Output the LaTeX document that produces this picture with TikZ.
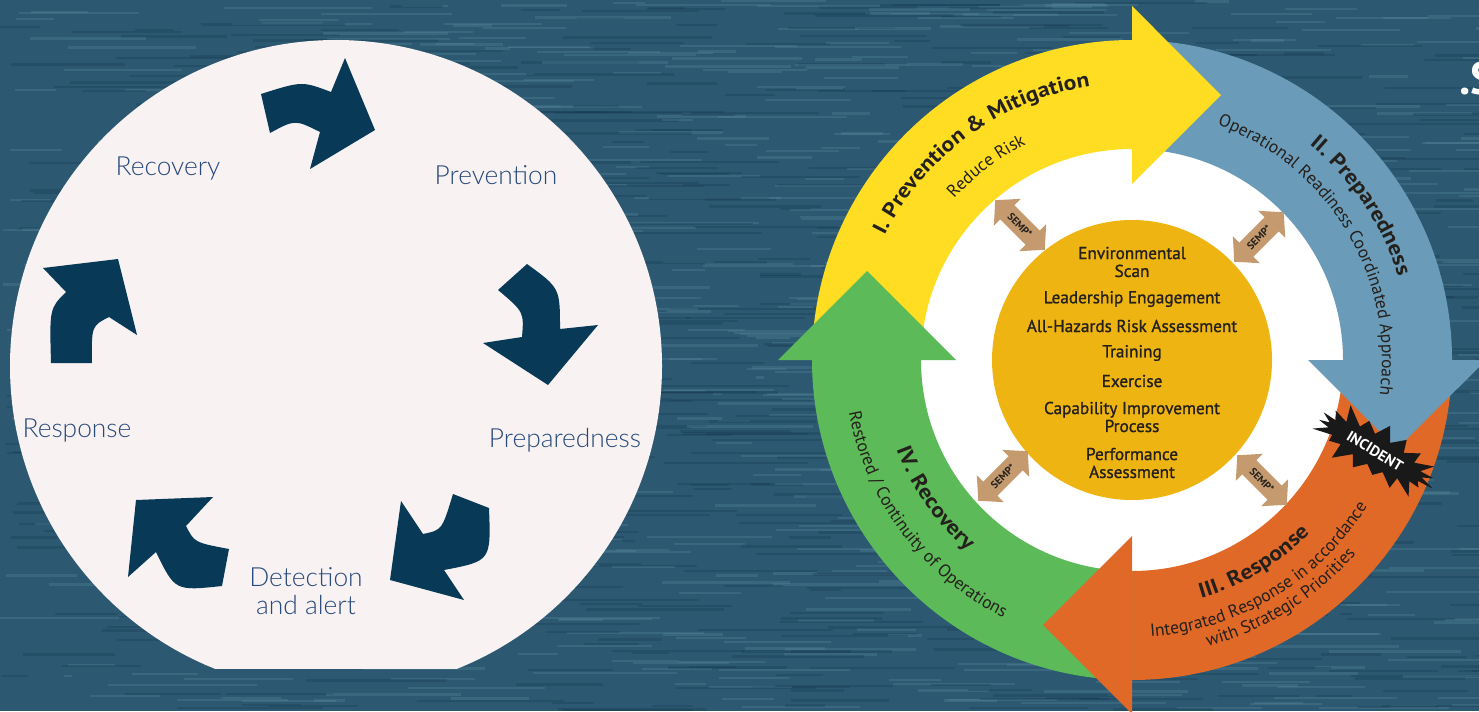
\documentclass[tikz,border=0pt]{standalone}
\usepackage{fontspec}
\setmainfont{PT Sans}
\newfontfamily\ringfont{PT Sans}
\newfontfamily\titlefont{PT Sans}[FakeStretch=1.12]
\newfontfamily\corefont{PT Sans}[FakeBold=1.2]
\IfFontExistsTF{Lato Light}{\newfontfamily\cyclefont{Lato Light}}{\newfontfamily\cyclefont{Lato}}
\usetikzlibrary{decorations.text, shapes.symbols}

\definecolor{sea}{RGB}{44,89,113}
\definecolor{sealight}{RGB}{92,142,162}
\definecolor{seadark}{RGB}{22,55,80}
\definecolor{dial}{RGB}{249,242,242}
\definecolor{navy}{RGB}{8,58,88}
\definecolor{labelblue}{RGB}{40,74,124}
\definecolor{phaseyellow}{RGB}{254,221,34}
\definecolor{phaseblue}{RGB}{106,155,184}
\definecolor{phaseorange}{RGB}{224,105,40}
\definecolor{phasegreen}{RGB}{92,186,88}
\definecolor{core}{RGB}{238,180,18}
\definecolor{semp}{RGB}{196,154,110}
\definecolor{ink}{RGB}{36,32,28}

\tikzset{
	x=0.02cm, y=0.02cm, % one unit is one pixel
	streak/.style={line width=1.3, sealight, opacity=.28}, % light threads of the backdrop
	darkstreak/.style={line width=1.3, seadark, opacity=.3}, % dark threads of the backdrop
	cyclearrow/.style={fill=navy}, % arrows of the left wheel
	cyclelabel/.style={text=labelblue, align=center, font=\cyclefont\fontsize{15}{16}\selectfont},
	corelabel/.style={text=ink, align=center, font=\corefont\fontsize{9.8}{10.2}\selectfont},
	semplabel/.style={text=ink, inner sep=0pt, font=\ringfont\bfseries\fontsize{6}{6}\selectfont},
	ringtitle/.style={decorate, decoration={text along path, text align=center, text color=ink,
		text={|\titlefont\bfseries\fontsize{12}{14}\selectfont|#1}}}, % bold phase names
	ringnote/.style={decorate, decoration={text along path, text align=center, text color=ink,
		text={|\ringfont\fontsize{10}{12}\selectfont|#1}}}, % phase subtitles
	pics/semparrow/.style={code={
		\fill[semp] (-35,0) -- (-18,19) -- (-18,10) -- (18,10) -- (18,19) -- (35,0)
			-- (18,-19) -- (18,-10) -- (-18,-10) -- (-18,-19) -- cycle;
		\node[semplabel, transform shape] (-tag) {SEMP*};
	}},
}

\begin{document}
\begin{tikzpicture}
	\useasboundingbox (0,0) rectangle (1479,711);
	\clip (0,0) rectangle (1479,711);

	% backdrop
	\fill[sea] (0,0) rectangle (1479,711);
	\pgfmathsetseed{7}
	\foreach \i in {1,...,1400} {
		\pgfmathsetmacro\sx{rnd*1479}
		\pgfmathsetmacro\sy{rnd*711}
		\pgfmathsetmacro\sl{30+rnd*120}
		\ifodd\i
			\draw[streak] (\sx,\sy) -- ++(\sl,0);
		\else
			\draw[darkstreak] (\sx,\sy) -- ++(\sl,0);
		\fi
	}

	% left wheel, drawn in pixel rows from the top
	\begin{scope}[shift={(0,711)}, yscale=-1]
		\begin{scope}
			\clip (0,0) rectangle (700,668);
			\fill[dial] (336,366) circle[radius=326];
		\end{scope}
		\fill[cyclearrow] (261,94) .. controls (302,81) .. (331,92) -- (345,58) -- (375,130) -- (310,169)
			-- (320,132) .. controls (295,119.5) .. (270,133) -- cycle;
		\fill[cyclearrow] (527,264) .. controls (560,288) .. (560,329) -- (598,325) -- (548,385) -- (483,343)
			-- (522,337) .. controls (524,312) .. (498,290) -- cycle;
		\fill[cyclearrow] (489,508) .. controls (491,561) .. (444,570) -- (464,600) -- (390,580) -- (401,501)
			-- (423,534) .. controls (442,530) .. (453,494) -- cycle;
		\fill[cyclearrow] (222,586) -- (229,549) .. controls (194.5,542.5) .. (186,526) -- (213,497) -- (136,500)
			-- (128,577) -- (156,552) .. controls (175,591) .. (222,586) -- cycle;
		\fill[cyclearrow] (51,363) -- (92,363) .. controls (91.5,326) .. (109,317) -- (137,335) -- (118,259)
			-- (43,268) -- (66,292) .. controls (49.5,308.5) .. (51,363) -- cycle;

		\node[cyclelabel] (recovery) at (168,168) {Recovery};
		\node[cyclelabel] (prevention) at (496,175) {Prevention};
		\node[cyclelabel] (preparedness) at (565,440) {Preparedness};
		\node[cyclelabel] (detection) at (306,591) {Detection\\and alert};
		\node[cyclelabel] (response) at (77,430) {Response};
	\end{scope}

	% right wheel, centred on its core
	\begin{scope}[shift={(1132,351)}]
		\fill[white] (0,0) circle[radius=215];
		% ring bands, then the heads on top
		\foreach \a/\c in {180/phaseyellow, 90/phaseblue, 0/phaseorange, -90/phasegreen}
			\fill[\c] (\a:211) arc[start angle=\a, end angle=\a-90, radius=211]
				-- (\a-90:320) arc[start angle=\a-90, end angle=\a, radius=320] -- cycle;
		\foreach \a/\c in {90/phaseyellow, 0/phaseblue, -90/phaseorange, 180/phasegreen}
			\fill[\c] (\a:176) -- (\a:354) -- (\a-18.56:279.5) -- cycle;

		\fill[core] (0,0) circle[radius=140];

		\pic[rotate=-45] (sempnw) at (-112,135) {semparrow};
		\pic[rotate=45] (sempne) at (127,123) {semparrow};
		\pic[rotate=45] (sempsw) at (-129,-116) {semparrow};
		\pic[rotate=-45] (sempse) at (130,-120) {semparrow};

		\node[corelabel] (scan) at (0,98) {Environmental\\Scan};
		\node[corelabel] (lead) at (0,61) {Leadership Engagement};
		\node[corelabel] (risk) at (0,34) {All-Hazards Risk Assessment};
		\node[corelabel] (train) at (0,7) {Training};
		\node[corelabel] (exer) at (0,-21) {Exercise};
		\node[corelabel] (capab) at (0,-57) {Capability Improvement\\Process};
		\node[corelabel] (perf) at (0,-103) {Performance\\Assessment};

		% phase names along the ring
		\path[ringtitle={I. Prevention {\&} Mitigation}] (176:277) arc[start angle=176, end angle=76, radius=277];
		\path[ringnote={Reduce Risk}] (160:240) arc[start angle=160, end angle=94, radius=240];
		\path[ringtitle={II. Preparedness}] (79:279) arc[start angle=79, end angle=-11, radius=279];
		\path[ringnote={Operational Readiness Coordinated Approach}] (96:250) arc[start angle=96, end angle=-34, radius=250];
		\path[ringtitle={III. Response}] (-104:248) arc[start angle=-104, end angle=-14, radius=248];
		\path[ringnote={Integrated Response in accordance}] (-124:277) arc[start angle=-124, end angle=6, radius=277];
		\path[ringnote={with Strategic Priorities}] (-113:296) arc[start angle=-113, end angle=-3, radius=296];
		\path[ringtitle={IV. Recovery}] (170:252) arc[start angle=170, end angle=260, radius=252];
		\path[ringnote={Restored / Continuity of Operations}] (152:288) arc[start angle=152, end angle=282, radius=288];

		\node[starburst, starburst points=19, starburst point height=0.4cm, fill=black!90, text=white,
			minimum width=2.95cm, minimum height=1.4cm, inner sep=1pt, rotate=-31,
			font=\ringfont\bfseries\fontsize{8.5}{9}\selectfont] (incident) at (243,-91) {INCIDENT};
	\end{scope}

	\node[anchor=west, text=white, font=\ringfont\bfseries\fontsize{26}{26}\selectfont] (edge) at (1453,632) {.S};
\end{tikzpicture}
\end{document}
